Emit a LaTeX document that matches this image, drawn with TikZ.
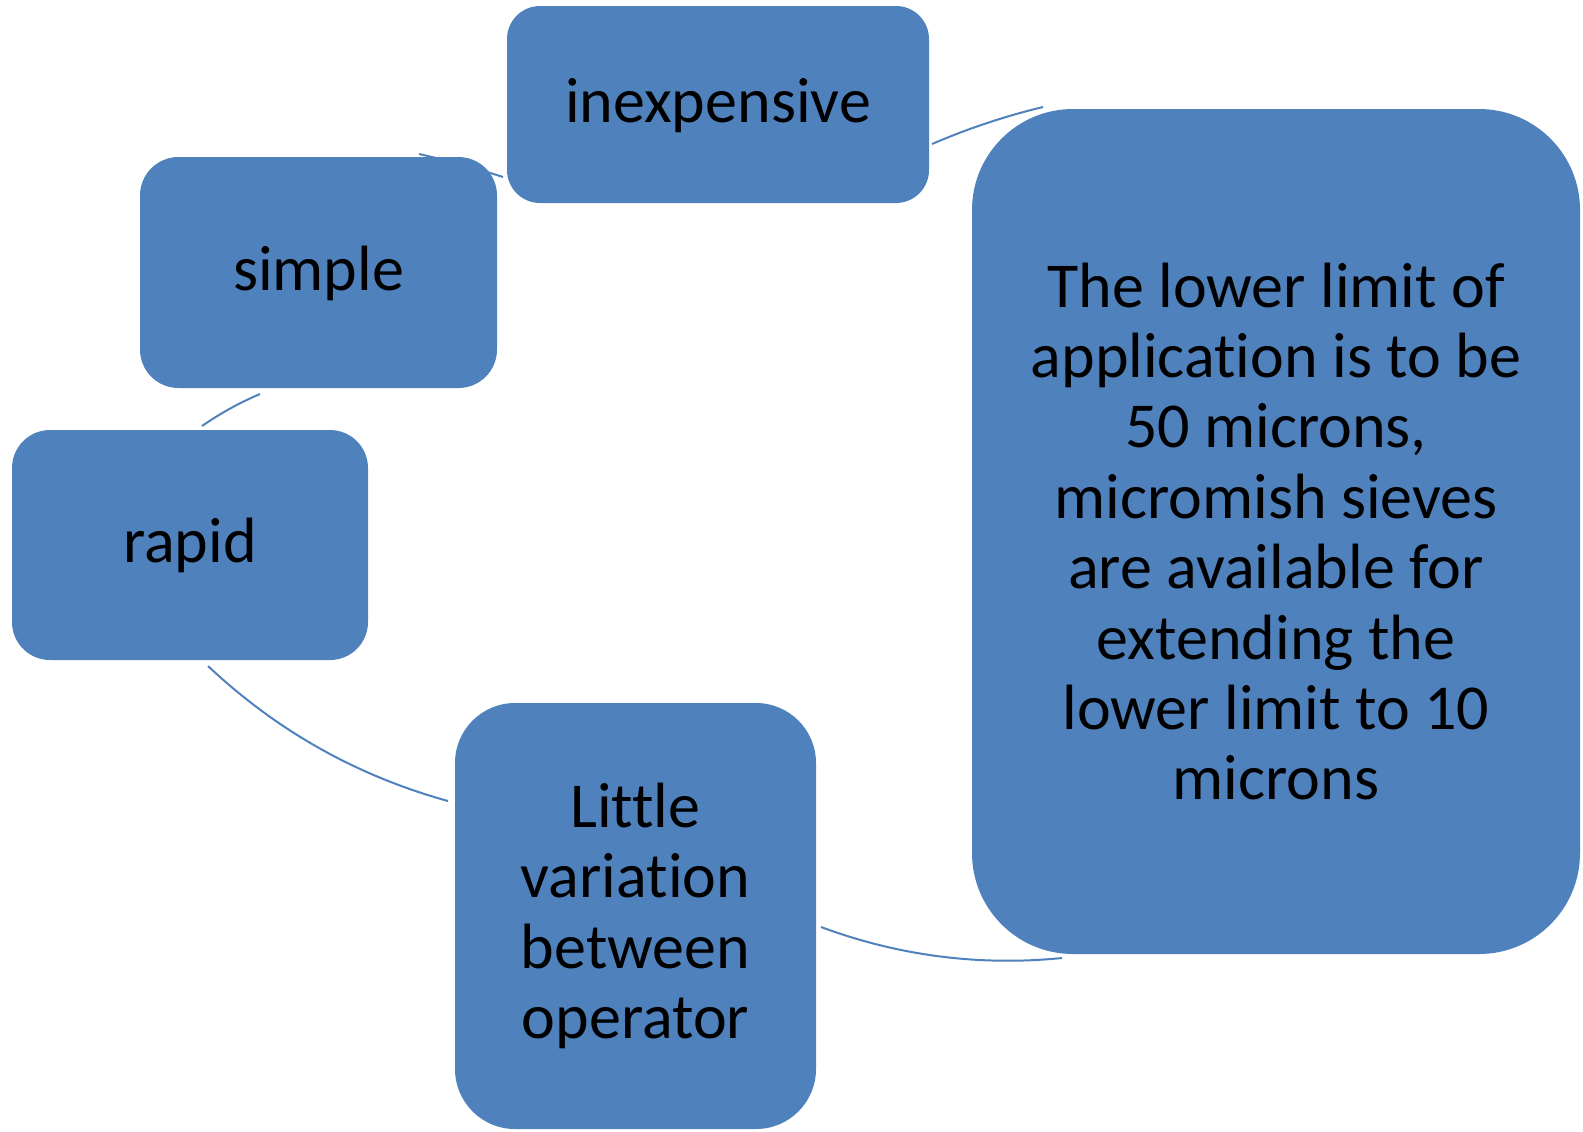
\documentclass[tikz,border=0pt]{standalone}
\usepackage{fontspec}
\setmainfont{Carlito}[Ligatures=NoCommon]
\usetikzlibrary{backgrounds,calc}
\definecolor{boxblue}{HTML}{4F81BD}
\begin{document}
\begin{tikzpicture}[x=0.5pt,y=-0.5pt,
  cyclebox/.style={rectangle, fill=boxblue, inner sep=0pt, align=center,
    font=\fontsize{32}{35.2}\selectfont, text=black},
  oneline/.style={text height=23pt, text depth=5.5pt},
  cyclearc/.style={draw=boxblue, line width=1pt}]
\useasboundingbox (0,0) rectangle (1583,1131);
% boxes
\node[cyclebox, oneline, minimum width=211pt, minimum height=98.5pt, rounded corners=16.5pt] (inexp) at (718,104.5) {inexpensive};
\node[cyclebox, oneline, minimum width=178.5pt, minimum height=115.5pt, rounded corners=19.25pt] (simple) at (318.5,272.5) {simple};
\node[cyclebox, oneline, minimum width=178pt, minimum height=115pt, rounded corners=19pt] (rapid) at (190,545) {rapid};
\node[cyclebox, minimum width=180.5pt, minimum height=213pt, rounded corners=30pt] (little) at (635.5,916) {Little\\variation\\between\\operator};
\node[cyclebox, minimum width=304pt, minimum height=422.5pt, rounded corners=50.5pt] (limit) at (1276,531.5) {The lower limit of\\application is to be\\50 microns,\\micromish sieves\\are available for\\extending the\\lower limit to 10\\microns};
% arc end points and (quadratic) bend points
\coordinate (a1s) at (419,154);  \coordinate (a1q) at (461.5,163.6); \coordinate (a1e) at (503,177);
\coordinate (a2s) at (932,144);  \coordinate (a2q) at (985.9,120.8); \coordinate (a2e) at (1043,107);
\coordinate (a3s) at (1062,958); \coordinate (a3q) at (937.9,970.3); \coordinate (a3e) at (821,927);
\coordinate (a4s) at (448,801);  \coordinate (a4q) at (311.3,763.2); \coordinate (a4e) at (208,666);
\coordinate (a5s) at (202,426);  \coordinate (a5q) at (229.4,407);   \coordinate (a5e) at (260,394);
\begin{pgfonlayer}{background}
\foreach \i in {1,...,5}{
  \draw[cyclearc] (a\i s) .. controls ($(a\i s)!0.6667!(a\i q)$) and ($(a\i e)!0.6667!(a\i q)$) .. (a\i e);
}
\end{pgfonlayer}
\end{tikzpicture}
\end{document}
